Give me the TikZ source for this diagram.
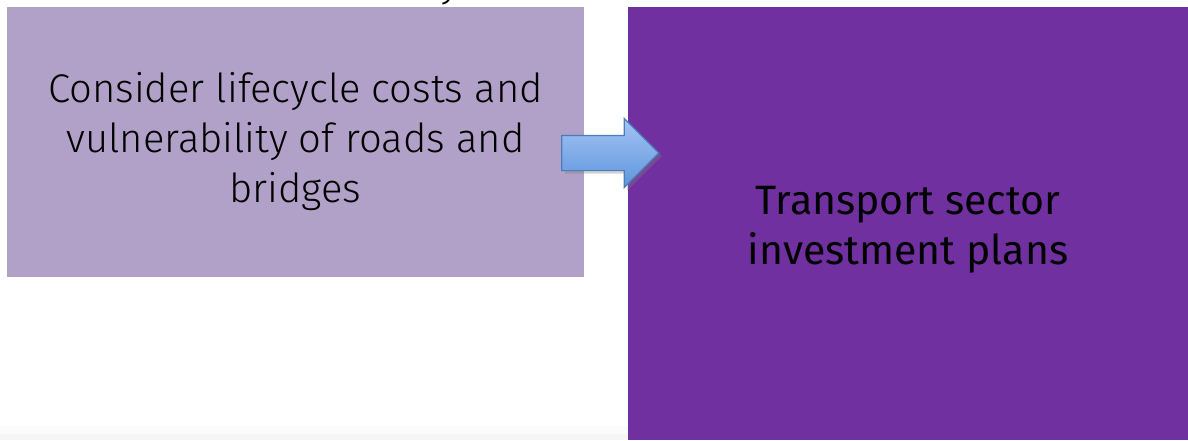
\documentclass[tikz,border=0pt]{standalone}
\usepackage{fontspec}
\setmainfont{Fira Sans}
\newfontfamily\lightfont{Fira Sans Light}
\definecolor{LightPurple}{RGB}{177, 160, 199}
\definecolor{DeepPurple}{RGB}{112, 48, 160}
\definecolor{ArrowTop}{RGB}{163, 196, 243}
\definecolor{ArrowBottom}{RGB}{95, 149, 222}
\definecolor{ArrowEdge}{RGB}{74, 126, 187}
\usetikzlibrary{positioning, shapes, shadows}

\begin{document}
\begin{tikzpicture}[
        x=1pt, y=-1pt,
        panel/.style={rectangle, inner sep=0pt, align=center, text=black},
        blockarrow/.style={single arrow, draw=ArrowEdge, line width=1.2pt, top color=ArrowTop, bottom color=ArrowBottom, minimum height=97pt, inner xsep=0pt, inner ysep=17pt, single arrow head extend=17pt, drop shadow={shadow xshift=3pt, shadow yshift=-3pt, opacity=0.35}}
    ]
        \useasboundingbox (0,0) rectangle (1188,440);
        \fill [gray!3] (0,426) rectangle (1188,440);
        \fill [gray!7] (0,434) rectangle (1188,440);

        \node [anchor=base, font=\lightfont\fontsize{42}{50}\selectfont] (title) at (450,-4) {y};

        \node [panel, fill=LightPurple, minimum width=577pt, minimum height=270pt, font=\lightfont\fontsize{40}{50}\selectfont] (costs) at (295.5,142)
            {Consider lifecycle costs and\\vulnerability of roads and\\bridges};
        \node [panel, fill=DeepPurple, minimum width=560pt, minimum height=433pt] (plans) at (908,223.5) {};
        \node [panel, font=\fontsize{41}{50}\selectfont] (plansText) at ([yshift=-6pt]plans.center)
            {Transport sector\\investment plans};

        \node [blockarrow] (link) at (601.5,153) {};
    \end{tikzpicture}
\end{document}
